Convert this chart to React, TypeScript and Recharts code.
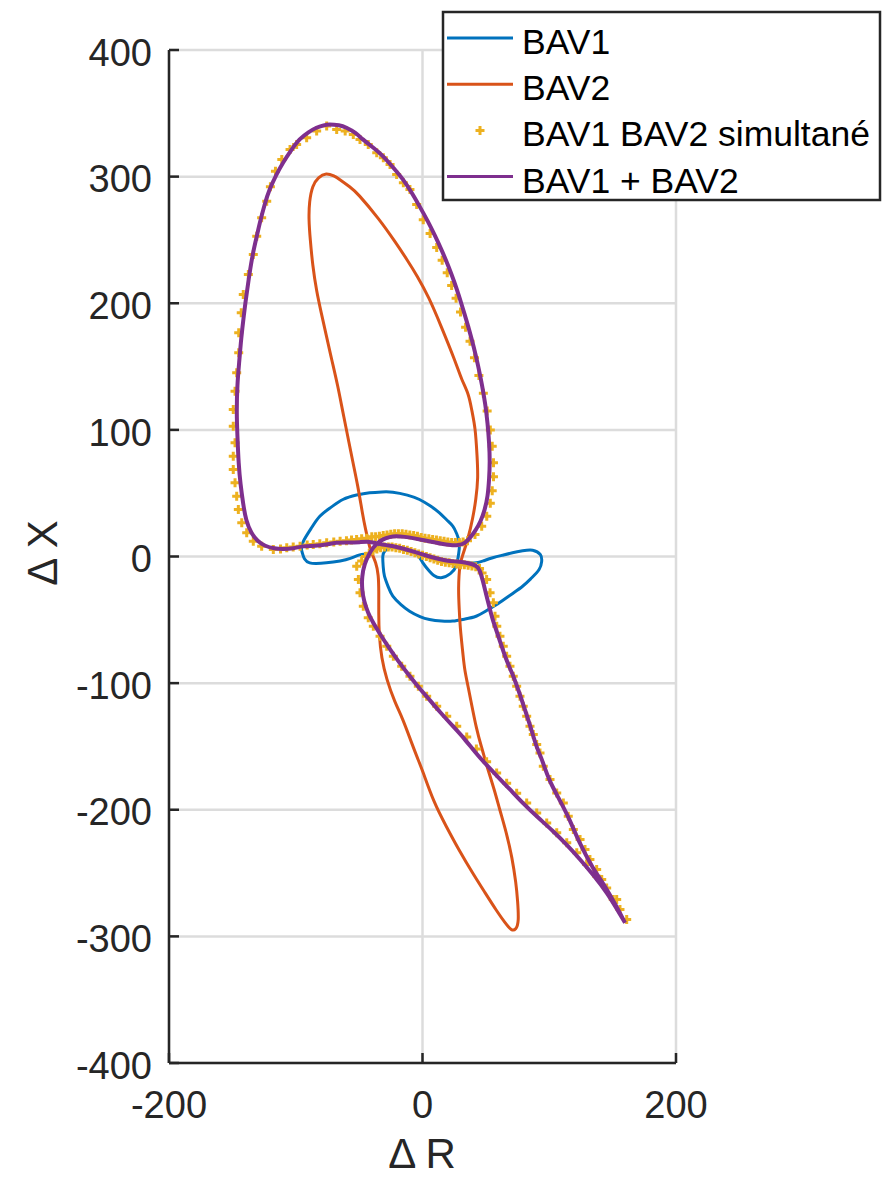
import React from "react"
import { ScatterChart, Scatter, XAxis, YAxis, CartesianGrid } from "recharts"

type Pt = [number, number]

const FONT = '"Liberation Sans", Arial, Helvetica, sans-serif'
const BLUE = "#0072BD"
const ORANGE = "#D95319"
const YELLOW = "#EDB120"
const PURPLE = "#7E2F8E"
const INK = "#262626"

const xTicks = [-200, 0, 200]
const yTicks = [-400, -300, -200, -100, 0, 100, 200, 300, 400]
const seriesNames = ["BAV1", "BAV2", "BAV1 BAV2 simultané", "BAV1 + BAV2"]

// BAV1 trajectory (ΔR, ΔX)
const bav1: Pt[] = [
  [-95.5, 5.5], [-94, 12], [-88, 22], [-81, 31.8], [-72, 39], [-62.8, 45], [-52, 48.5], [-41.7, 50.3],
  [-32, 51], [-23.4, 50.8], [-12, 48.5], [-2.4, 45], [6, 40], [13.4, 34.5], [19, 29], [23.9, 24], [27, 18],
  [29.1, 10.8], [28.5, 2], [26.5, -7.6], [22, -13.5], [14.7, -16.8], [9, -15], [5.5, -11.6], [0.3, -5],
  [-4, 1.5], [-10, 4], [-18, 6.3], [-25, 7], [-29.5, 4.5], [-31.3, 0.2], [-31, -8], [-30, -15.5], [-27, -24],
  [-23.4, -31.3], [-17, -38], [-10.2, -43.2], [-2, -47.5], [5.5, -49.8], [15, -51], [23.9, -51], [33, -49.5],
  [42.3, -47.2], [51, -42.5], [60.6, -36.6], [70, -30], [79, -23.5], [86, -17], [92, -10.3], [94, -4],
  [93, 1.5], [86.9, 5], [79, 4.5], [71, 2.9], [63, 1], [55.4, -1], [48, -3.5], [42.3, -5], [35, -5], [27, -4],
  [18.7, -3.2], [10, -1.2], [2.9, 0.8], [-5, 3.2], [-12.8, 5.5], [-20.5, 7.5], [-28.6, 9], [-35, 8.5],
  [-40, 4.5], [-44, 2], [-49.6, 1.3], [-57, -1.5], [-65, -3.5], [-75.8, -5], [-84, -5.5], [-89, -5],
  [-93, -2], [-95.5, 5.5],
]

// BAV2 trajectory
const bav2: Pt[] = [
  [-43, 13], [-40.5, 4], [-37, -5], [-35, -15], [-34.5, -28], [-34.5, -45], [-34, -62], [-32, -80], [-28, -97],
  [-22, -114], [-15.5, -129], [-9, -146], [-4, -159], [1, -172], [9, -193], [18.7, -213], [29, -232],
  [39.6, -250], [49, -265], [58, -279], [65, -289], [70, -294.5], [73.5, -294], [75.5, -287], [75, -272],
  [73.5, -257], [70.5, -238], [66, -218], [61, -200], [56.5, -184], [51, -166], [47, -152], [42.5, -135],
  [37, -108], [33.5, -90], [31.8, -76], [30, -58], [29, -42], [28.5, -25], [29.5, -8], [32, 2], [36, 15],
  [39.5, 30], [42, 45], [43.5, 62], [43, 80], [41.5, 100], [39, 115], [36, 128], [31, 140], [25, 156],
  [15, 181], [5, 204], [-4, 221], [-12, 234], [-22, 249], [-35, 267], [-49.6, 284.6], [-57.5, 292],
  [-65.4, 297.8], [-70, 300.5], [-76, 302], [-82, 299], [-86.5, 292], [-89, 280], [-89.5, 266], [-88.5, 250],
  [-86.5, 230], [-83.5, 210], [-80, 193], [-76, 175], [-71.5, 155], [-67, 135], [-63, 115], [-59, 95],
  [-55, 75], [-51, 55], [-47.5, 35], [-45, 22], [-43, 13],
]

// BAV1 BAV2 simultané (markers)
const simultane: Pt[] = [
  [-117.7, 5.5], [-126.9, 8.1], [-133.5, 12.1], [-138.7, 18.7], [-142.6, 26.6], [-145.3, 37.1], [-146.6, 47.6],
  [-147.9, 58.2], [-149.3, 68.7], [-149.3, 79.2], [-147.9, 89.8], [-149.3, 102.9], [-149.3, 116.1],
  [-147.9, 130.6], [-146.6, 145.1], [-145, 160.9], [-145, 176.7], [-143, 192.5], [-141.4, 207], [-137.4, 222.7],
  [-133.5, 238.5], [-130.8, 253], [-126.9, 267.5], [-122.9, 280.6], [-120, 292], [-116, 304.3], [-111, 313.6],
  [-104.5, 321.5], [-99.3, 325.4], [-91.4, 330.7], [-83.5, 336], [-75.6, 339.9], [-67.7, 337.3], [-61, 336],
  [-54.6, 333.3], [-49.3, 329.4], [-42.8, 325.4], [-36.1, 318.9], [-30.9, 314.9], [-25.6, 309.6], [-20.4, 301.7],
  [-15.1, 295.2], [-9.9, 289.9], [-4.6, 278], [0.6, 266], [6, 255], [11.2, 244], [15.5, 234], [19.5, 224],
  [23, 214], [26.5, 204], [30, 193], [34, 181], [37.5, 170], [41, 157], [44.5, 143], [48, 129], [51, 115],
  [53.5, 100], [55, 87], [56, 74], [56, 63], [55, 52], [53.5, 42], [50.7, 31.8], [46.7, 23.9], [41.4, 17.4],
  [35.5, 12.5],
  [32, 11.5], [29, 11], [26, 11], [23, 11], [20, 11.5], [17, 12], [14, 12.5], [11, 13], [8, 13.5], [5, 14],
  [2, 14.5], [-1, 15], [-4, 16], [-7, 16.5], [-10, 17], [-13, 17.5], [-16, 18], [-19, 18], [-22, 18],
  [-25, 17.5], [-28, 17], [-31, 16.5], [-34, 16], [-37, 15.5], [-40, 15.5],
  [-44, 14.5], [-48, 14], [-52, 13.5], [-56, 13], [-60, 12.5], [-65, 12], [-70, 11.5], [-75.6, 10.8], [-81, 10],
  [-86.2, 9.5], [-91, 9], [-96.6, 8.1], [-102, 7.5], [-107.1, 6.9], [-112, 6],
  [47, -13], [45, -9.5], [42, -8], [39, -7.5], [36, -7], [33, -6.5], [30, -6.5], [27, -6], [24, -5.5], [21, -5],
  [18, -4.5], [15, -4], [12, -3], [9, -2], [6, -1], [3, 0], [0, 1], [-3, 2], [-6, 3], [-9, 4], [-12, 5],
  [-15, 5.5], [-18, 6.5], [-21, 7], [-24, 7.5], [-27, 7.5], [-30, 7.5], [-33, 7], [-36, 6], [-39, 4.5],
  [-42, 2.5], [-45, 0], [-48, -3.5],
  [-51.9, -7.7], [-50.6, -18.2], [-49.3, -28.7], [-46.7, -39.3], [-42.8, -48.4], [-38.8, -55.1], [-33.5, -63],
  [-28.2, -70.9], [-23, -78.8], [-16.4, -86.7], [-9.9, -94.5], [-3.3, -102.4], [3.3, -110.3], [11.2, -118.2],
  [19.1, -126.1], [27, -134], [34.9, -142.5], [42.5, -152], [50.6, -162], [58.5, -171], [66.4, -179],
  [74.3, -187], [82.2, -194.6], [90.1, -202.5], [98, -210.4], [105.9, -218.2], [113.8, -226.1],
  [121.7, -234], [129.5, -243.3], [137.4, -252.5], [145.3, -261.7], [153.2, -270.9],
  [161.1, -286.7], [155.8, -278.8], [150.5, -270.9], [141.4, -255.1], [137.4, -247.2], [132.1, -239.3],
  [128.2, -231.4], [124.3, -223.5], [119, -215.6], [115, -205.1], [111.1, -194.6], [105.9, -186.7],
  [100.6, -176.1], [95.3, -165.6], [92.7, -155.1], [90.1, -148.5], [87.4, -140.6], [84.8, -134], [82.2, -126.1],
  [79.5, -118.2], [76.9, -110.3], [74.3, -102.4], [71.6, -94.5], [69, -86.7], [66.4, -78.8], [63.7, -70.9],
  [61.1, -63], [58.6, -55.1], [57.2, -47.2], [55.9, -36.6], [53.3, -28.7], [50.6, -18.2],
]

// BAV1 + BAV2
const somme: Pt[] = [
  [159.8, -289.3], [155, -280], [150, -271], [141, -256], [134, -245], [124, -226], [116, -208], [108, -192],
  [100, -176], [94, -160], [90, -150], [85, -134], [80.5, -120], [76.5, -108], [71, -93], [66, -81],
  [60.5, -65], [55.5, -50], [52.5, -39], [50, -29], [47.5, -19], [45, -11], [41.5, -7], [34.5, -5], [27, -4],
  [18.7, -3.2], [10, -1.2], [2.9, 0.8], [-5, 3.2], [-12.8, 5.5], [-20.5, 7.5], [-28.6, 9], [-35, 10.3],
  [-42, 11.5], [-49.6, 11.3], [-58, 11], [-68, 10.8], [-76, 9.5], [-85, 8.5], [-94, 8], [-102, 6.5],
  [-110, 6], [-117, 6.5], [-124, 8.5], [-130, 12.5], [-135, 19], [-139, 29], [-141.5, 42], [-143.5, 57],
  [-145, 74], [-146, 95], [-146.5, 113.5], [-146, 135], [-144.5, 155], [-143, 172], [-141, 190],
  [-139, 205.6], [-136.5, 223], [-133.6, 240], [-130.5, 254], [-128.3, 263.6], [-124.5, 278], [-120.5, 290],
  [-115.5, 301], [-110, 311], [-103.5, 321], [-96.9, 329.4], [-90, 335], [-83.7, 338.6], [-78, 340.5],
  [-73.2, 341.2], [-66, 340.5], [-60, 338.6], [-53, 334.5], [-47, 329.4], [-39, 323], [-31.3, 316.2],
  [-23, 307], [-15.5, 297.8], [-9, 288], [-2.4, 276.7], [4, 265], [10, 253], [15.5, 241], [20.5, 229],
  [25, 217], [29, 205], [33, 192], [36.8, 179], [40.5, 165], [44, 150], [47, 135], [49.5, 120], [51.3, 105],
  [52.5, 90], [53, 75], [52.5, 61], [51.3, 48], [49, 37], [45.8, 28], [42, 21], [38, 15.5],
  [33.5, 11], [28, 9], [22, 9], [15, 10], [8, 11.5], [0, 13], [-7.6, 14.5], [-14, 15.5], [-20.7, 16],
  [-26, 15.3], [-31, 13.5], [-35.5, 10.5], [-38.8, 7], [-42, 2], [-45.5, -6], [-47.5, -16], [-47.5, -26],
  [-46, -35], [-43, -44], [-38.5, -53], [-33, -62], [-26.5, -72], [-19.5, -82], [-12, -92], [-4, -102],
  [4.5, -112], [14, -123], [24, -134], [33, -144], [42, -155], [50, -164], [58.5, -173], [69, -184],
  [79.5, -195], [91, -206], [103, -217], [114, -228], [124.3, -239.3], [135, -252], [145.3, -265.6],
  [152.5, -277], [159.8, -289.3],
]

const toXY = (a: Pt[]) => a.map(([x, y]) => ({ x, y }))

const NoDot = () => <g />

const PlusDot = (p: any) => (
  <path
    d={`M${p.cx - 4.5},${p.cy}H${p.cx + 4.5}M${p.cx},${p.cy - 4.5}V${p.cy + 4.5}`}
    stroke={YELLOW}
    strokeWidth={3}
    fill="none"
  />
)

const YTick = (p: any) => (
  <g>
    <line x1={p.x + 17} x2={p.x + 27} y1={p.y} y2={p.y} stroke={INK} strokeWidth={2.5} />
    <text x={p.x} y={p.y + 2} dy="0.36em" textAnchor="end" fontSize={38} fill={INK} fontFamily={FONT}>
      {p.payload.value}
    </text>
  </g>
)

const XTick = (p: any) => (
  <g>
    <line x1={p.x} x2={p.x} y1={p.y} y2={p.y - 10} stroke={INK} strokeWidth={2.5} />
    <text x={p.x} y={p.y + 55} textAnchor="middle" fontSize={38} fill={INK} fontFamily={FONT}>
      {p.payload.value}
    </text>
  </g>
)

export default function App() {
  const legendRows = [
    { name: seriesNames[0], color: BLUE, kind: "line" },
    { name: seriesNames[1], color: ORANGE, kind: "line" },
    { name: seriesNames[2], color: YELLOW, kind: "plus" },
    { name: seriesNames[3], color: PURPLE, kind: "line" },
  ]
  return (
    <div style={{ position: "absolute", left: 0, top: 0, width: 882, height: 1178, background: "#fff" }}>
      <ScatterChart width={882} height={1178} margin={{ top: 50, right: 206, bottom: 85, left: 109 }}>
        <CartesianGrid stroke="#dcdcdc" strokeWidth={2.5} />
        <XAxis
          type="number"
          dataKey="x"
          domain={[-200, 200]}
          ticks={xTicks}
          tickSize={0}
          tickMargin={0}
          tickLine={false}
          axisLine={{ stroke: INK, strokeWidth: 2.5 }}
          tick={XTick}
          interval={0}
        />
        <YAxis
          type="number"
          dataKey="y"
          domain={[-400, 400]}
          ticks={yTicks}
          width={60}
          tickSize={0}
          tickMargin={17}
          tickLine={false}
          axisLine={{ stroke: INK, strokeWidth: 2.5 }}
          tick={YTick}
          interval={0}
        />
        <Scatter
          name={seriesNames[0]}
          data={toXY(bav1)}
          fill={BLUE}
          line={{ stroke: BLUE, strokeWidth: 3 }}
          lineJointType="natural"
          shape={NoDot}
          isAnimationActive={false}
        />
        <Scatter
          name={seriesNames[1]}
          data={toXY(bav2)}
          fill={ORANGE}
          line={{ stroke: ORANGE, strokeWidth: 3 }}
          lineJointType="natural"
          shape={NoDot}
          isAnimationActive={false}
        />
        <Scatter
          name={seriesNames[2]}
          data={toXY(simultane)}
          fill={YELLOW}
          shape={PlusDot}
          isAnimationActive={false}
        />
        <Scatter
          name={seriesNames[3]}
          data={toXY(somme)}
          fill={PURPLE}
          line={{ stroke: PURPLE, strokeWidth: 4 }}
          lineJointType="natural"
          shape={NoDot}
          isAnimationActive={false}
        />
      </ScatterChart>

      <svg width={882} height={1178} style={{ position: "absolute", left: 0, top: 0, pointerEvents: "none" }}>
        <text x={422} y={1168} textAnchor="middle" fontSize={42} fill={INK} fontFamily={FONT}>
          Δ R
        </text>
        <text transform="translate(57,553) rotate(-90)" textAnchor="middle" fontSize={42} fill={INK} fontFamily={FONT}>
          Δ X
        </text>

        <rect x={443} y={12} width={437} height={188} fill="#fff" stroke={INK} strokeWidth={2.5} />
        {legendRows.map((r, i) => {
          const cy = 38 + i * 46.2
          return (
            <g key={r.name}>
              {r.kind === "line" ? (
                <line x1={447} x2={513} y1={cy} y2={cy} stroke={r.color} strokeWidth={3} />
              ) : (
                <path d={`M${475.5},${cy}H${484.5}M${480},${cy - 4.5}V${cy + 4.5}`} stroke={r.color} strokeWidth={3} />
              )}
              <text x={522} y={cy + 16} fontSize={35.5} fill="#000" fontFamily={FONT}>
                {r.name}
              </text>
            </g>
          )
        })}
      </svg>
    </div>
  )
}
